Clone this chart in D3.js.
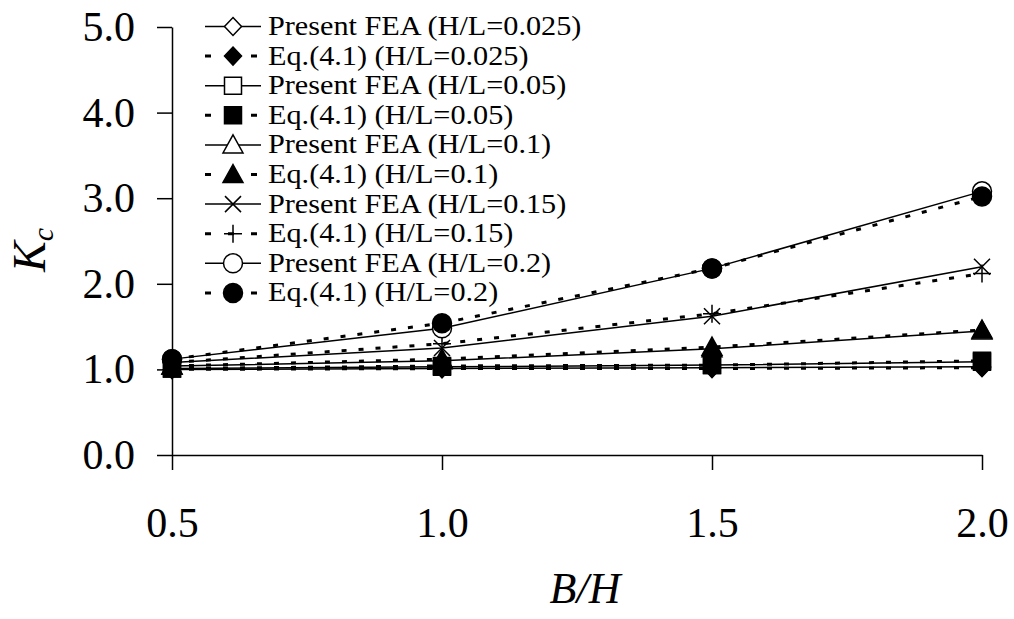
<!DOCTYPE html>
<html>
<head>
<meta charset="utf-8">
<script src="https://cdn.jsdelivr.net/npm/d3@7"></script>
<style>
  html, body { margin: 0; padding: 0; background: #ffffff; }
  svg { display: block; font-family: "Liberation Serif", "Times New Roman", serif; }
</style>
</head>
<body>
<svg id="chart" width="1014" height="619"></svg>
<script>
// B/H ratios on the horizontal axis
const ratios = [0.5, 1.0, 1.5, 2.0];

// Kc values, finite element analysis vs. Eq.(4.1), per H/L ratio
const feaHL0025 = [1.00, 1.01, 1.02, 1.03];
const eqHL0025  = [1.00, 1.01, 1.01, 1.02];
const feaHL005  = [1.01, 1.03, 1.05, 1.09];
const eqHL005   = [1.01, 1.04, 1.05, 1.10];
const feaHL01   = [1.04, 1.10, 1.24, 1.45];
const eqHL01    = [1.04, 1.12, 1.26, 1.46];
const feaHL015  = [1.08, 1.25, 1.62, 2.20];
const eqHL015   = [1.08, 1.30, 1.65, 2.12];
const feaHL02   = [1.12, 1.48, 2.18, 3.08];
const eqHL02    = [1.12, 1.54, 2.18, 3.02];

const seriesNames = [
  "Present FEA (H/L=0.025)", "Eq.(4.1) (H/L=0.025)",
  "Present FEA (H/L=0.05)",  "Eq.(4.1) (H/L=0.05)",
  "Present FEA (H/L=0.1)",   "Eq.(4.1) (H/L=0.1)",
  "Present FEA (H/L=0.15)",  "Eq.(4.1) (H/L=0.15)",
  "Present FEA (H/L=0.2)",   "Eq.(4.1) (H/L=0.2)"
];

const yTicks = [0, 1, 2, 3, 4, 5];
const xTicks = [0.5, 1.0, 1.5, 2.0];

// Series table: values plus marker style
const seriesValues = [feaHL0025, eqHL0025, feaHL005, eqHL005, feaHL01, eqHL01, feaHL015, eqHL015, feaHL02, eqHL02];
const markerKinds = ["diamond", "diamond", "square", "square", "triangle", "triangle", "cross", "plus", "circle", "circle"];
const series = seriesValues.map((vals, i) => ({
  name: seriesNames[i],
  values: vals,
  marker: markerKinds[i],
  filled: i % 2 === 1,
  dashed: i % 2 === 1
}));

const svg = d3.select("#chart");
const x = d3.scaleLinear().domain([0.5, 2.0]).range([172, 982]);
const y = d3.scaleLinear().domain([0, 5]).range([455, 27]);

// Marker path generators (centered at 0,0)
function markerPath(kind) {
  switch (kind) {
    case "diamond":  return "M0,-9L8.5,0L0,9L-8.5,0Z";
    case "square":   return "M-8.5,-8.5H8.5V8.5H-8.5Z";
    case "triangle": return "M0,-10L10,8L-10,8Z";
    case "circle":   return "M-9.5,0A9.5,9.5 0 1,0 9.5,0A9.5,9.5 0 1,0 -9.5,0Z";
    case "cross":    return "M-8,-8L8,8M-8,8L8,-8";
    case "plus":     return "M-9,0H9M0,-9V9";
  }
}

function drawMarker(g, s, cx, cy) {
  const open = s.marker === "cross" || s.marker === "plus";
  g.append("path")
    .attr("d", markerPath(s.marker))
    .attr("transform", `translate(${cx},${cy})`)
    .attr("fill", open ? "none" : (s.filled ? "#000" : "#fff"))
    .attr("stroke", "#000")
    .attr("stroke-width", 1.5);
}

// Axes
const yAxis = d3.axisLeft(y).tickValues(yTicks).tickFormat(d3.format(".1f"))
  .tickSize(15).tickSizeOuter(0).tickPadding(22);
const xAxis = d3.axisBottom(x).tickValues(xTicks).tickFormat(d3.format(".1f"))
  .tickSize(15).tickSizeOuter(0).tickPadding(37);

const gx = svg.append("g").attr("transform", `translate(0,${y(0)})`).call(xAxis);
const gy = svg.append("g").attr("transform", `translate(${x(0.5)},0)`).call(yAxis);
[gx, gy].forEach(g => {
  g.selectAll("path.domain").attr("stroke", "#000").attr("stroke-width", 1.5);
  g.selectAll(".tick line").attr("stroke", "#000").attr("stroke-width", 1.5);
  g.selectAll(".tick text")
    .attr("fill", "#000")
    .style("font-family", "'Liberation Serif', 'Times New Roman', serif")
    .style("font-size", "42px");
});

// Series lines and markers
const line = d3.line().x((d, i) => x(ratios[i])).y(d => y(d));
series.forEach(s => {
  const g = svg.append("g");
  g.append("path")
    .attr("d", line(s.values))
    .attr("fill", "none")
    .attr("stroke", "#000")
    .attr("stroke-width", s.dashed ? 3 : 1.5)
    .attr("stroke-dasharray", s.dashed ? "5,12" : null);
  s.values.forEach((v, i) => drawMarker(g, s, x(ratios[i]), y(v)));
});

// Legend (text slightly widened horizontally)
const legend = svg.append("g");
const rowStep = 29.6;
series.forEach((s, i) => {
  const base = 35 + i * rowStep;
  const cy = base - 8.5;
  legend.append("line")
    .attr("x1", 205).attr("x2", 261).attr("y1", cy).attr("y2", cy)
    .attr("stroke", "#000")
    .attr("stroke-width", s.dashed ? 3 : 1.5)
    .attr("stroke-dasharray", s.dashed ? "6,17" : null);
  drawMarker(legend, s, 233, cy);
  legend.append("text")
    .attr("transform", `translate(268,${base}) scale(1.08,1)`)
    .attr("font-size", 28)
    .attr("fill", "#000")
    .text(s.name);
});

// Axis titles
const yTitle = svg.append("text")
  .attr("transform", "translate(45,272) rotate(-90)")
  .attr("font-size", 46)
  .attr("font-style", "italic")
  .attr("fill", "#000");
yTitle.append("tspan").text("K");
yTitle.append("tspan").attr("font-size", 30).attr("dy", 8).text("c");

svg.append("text")
  .attr("x", 585).attr("y", 603)
  .attr("text-anchor", "middle")
  .attr("font-size", 44)
  .attr("font-style", "italic")
  .attr("fill", "#000")
  .text("B/H");
</script>
</body>
</html>
